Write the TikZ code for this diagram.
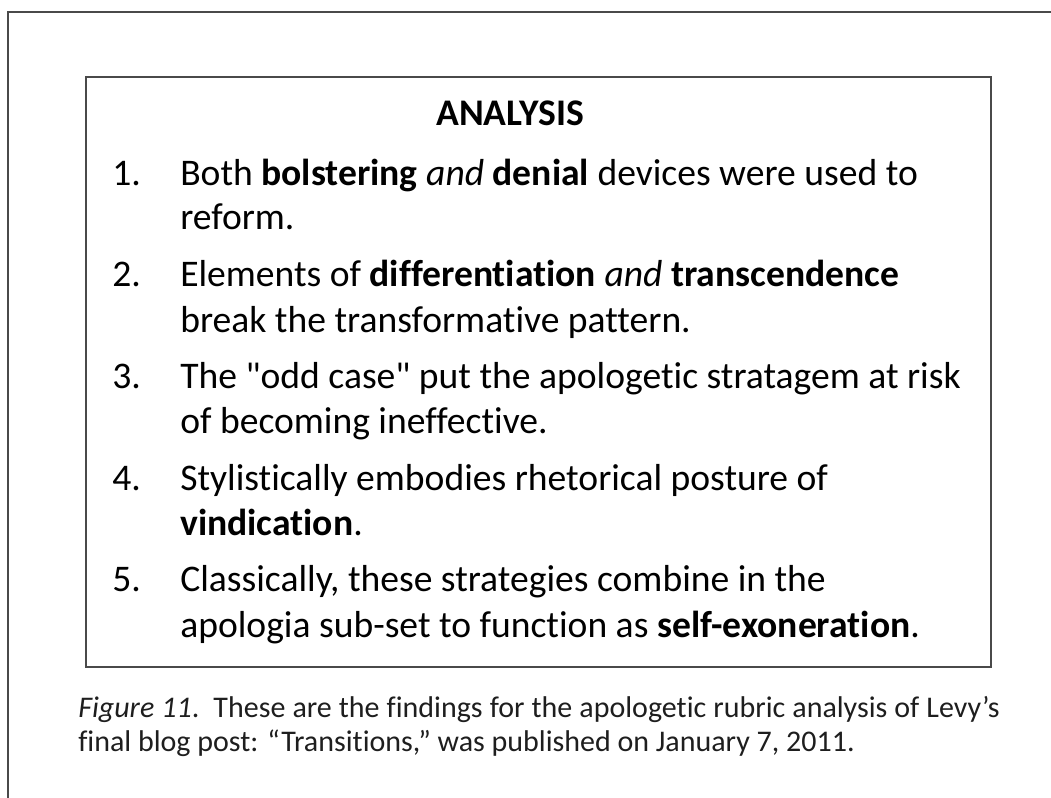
\documentclass[tikz,border=0pt]{standalone}
\usepackage{fontspec}
\setmainfont{Carlito}[Ligatures={TeXOff,CommonOff}]
\definecolor{framegray}{HTML}{4A4A4A}
\definecolor{captext}{HTML}{1E1E1E}
\begin{document}
\begin{tikzpicture}[x=0.75pt,y=-0.75pt,
    itemline/.style={anchor=base west, inner sep=0pt, font=\fontsize{28.2}{33}\selectfont},
    itemnum/.style={itemline},
    capline/.style={anchor=base west, inner sep=0pt, text=captext, font=\fontsize{22.5}{26}\selectfont}]
    \useasboundingbox (0,0) rectangle (1051,798);

    % outer page frame
    \draw[framegray, line width=1.5pt] (8,798) -- (8,12) -- (1051,12);

    % analysis box
    \draw[framegray, line width=1.5pt] (86,77) rectangle (991,667);

    \node[itemline, anchor=base] (title) at (510,126) {\textbf{ANALYSIS}};

    \node[itemnum] (n1) at (112,186) {1.};
    \node[itemline] (t1a) at (180,186) {Both \textbf{bolstering} \textit{and} \textbf{denial} devices were used to};
    \node[itemline] (t1b) at (180,230) {reform.};

    \node[itemnum] (n2) at (112,287) {2.};
    \node[itemline] (t2a) at (180,287) {Elements of \textbf{differentiation} \textit{and} \textbf{transcendence}};
    \node[itemline] (t2b) at (180,333) {break the transformative pattern.};

    \node[itemnum] (n3) at (112,389) {3.};
    \node[itemline] (t3a) at (180,389) {The "odd case" put the apologetic stratagem at risk};
    \node[itemline] (t3b) at (180,434) {of becoming ineffective.};

    \node[itemnum] (n4) at (112,491) {4.};
    \node[itemline] (t4a) at (180,491) {Stylistically embodies rhetorical posture of};
    \node[itemline] (t4b) at (180,536) {\textbf{vindication}.};

    \node[itemnum] (n5) at (112,592) {5.};
    \node[itemline] (t5a) at (180,592) {Classically, these strategies combine in the};
    \node[itemline] (t5b) at (180,638) {apologia sub-set to function as \textbf{self-exoneration}.};

    % caption
    \node[capline] (cap1) at (78,718) {\makebox[691pt][s]{\textit{Figure 11}.\ \ These are the findings for the apologetic rubric analysis of Levy’s}};
    \node[capline] (cap2) at (78,752) {final blog post: “Transitions,” was published on January 7, 2011.};
\end{tikzpicture}
\end{document}
